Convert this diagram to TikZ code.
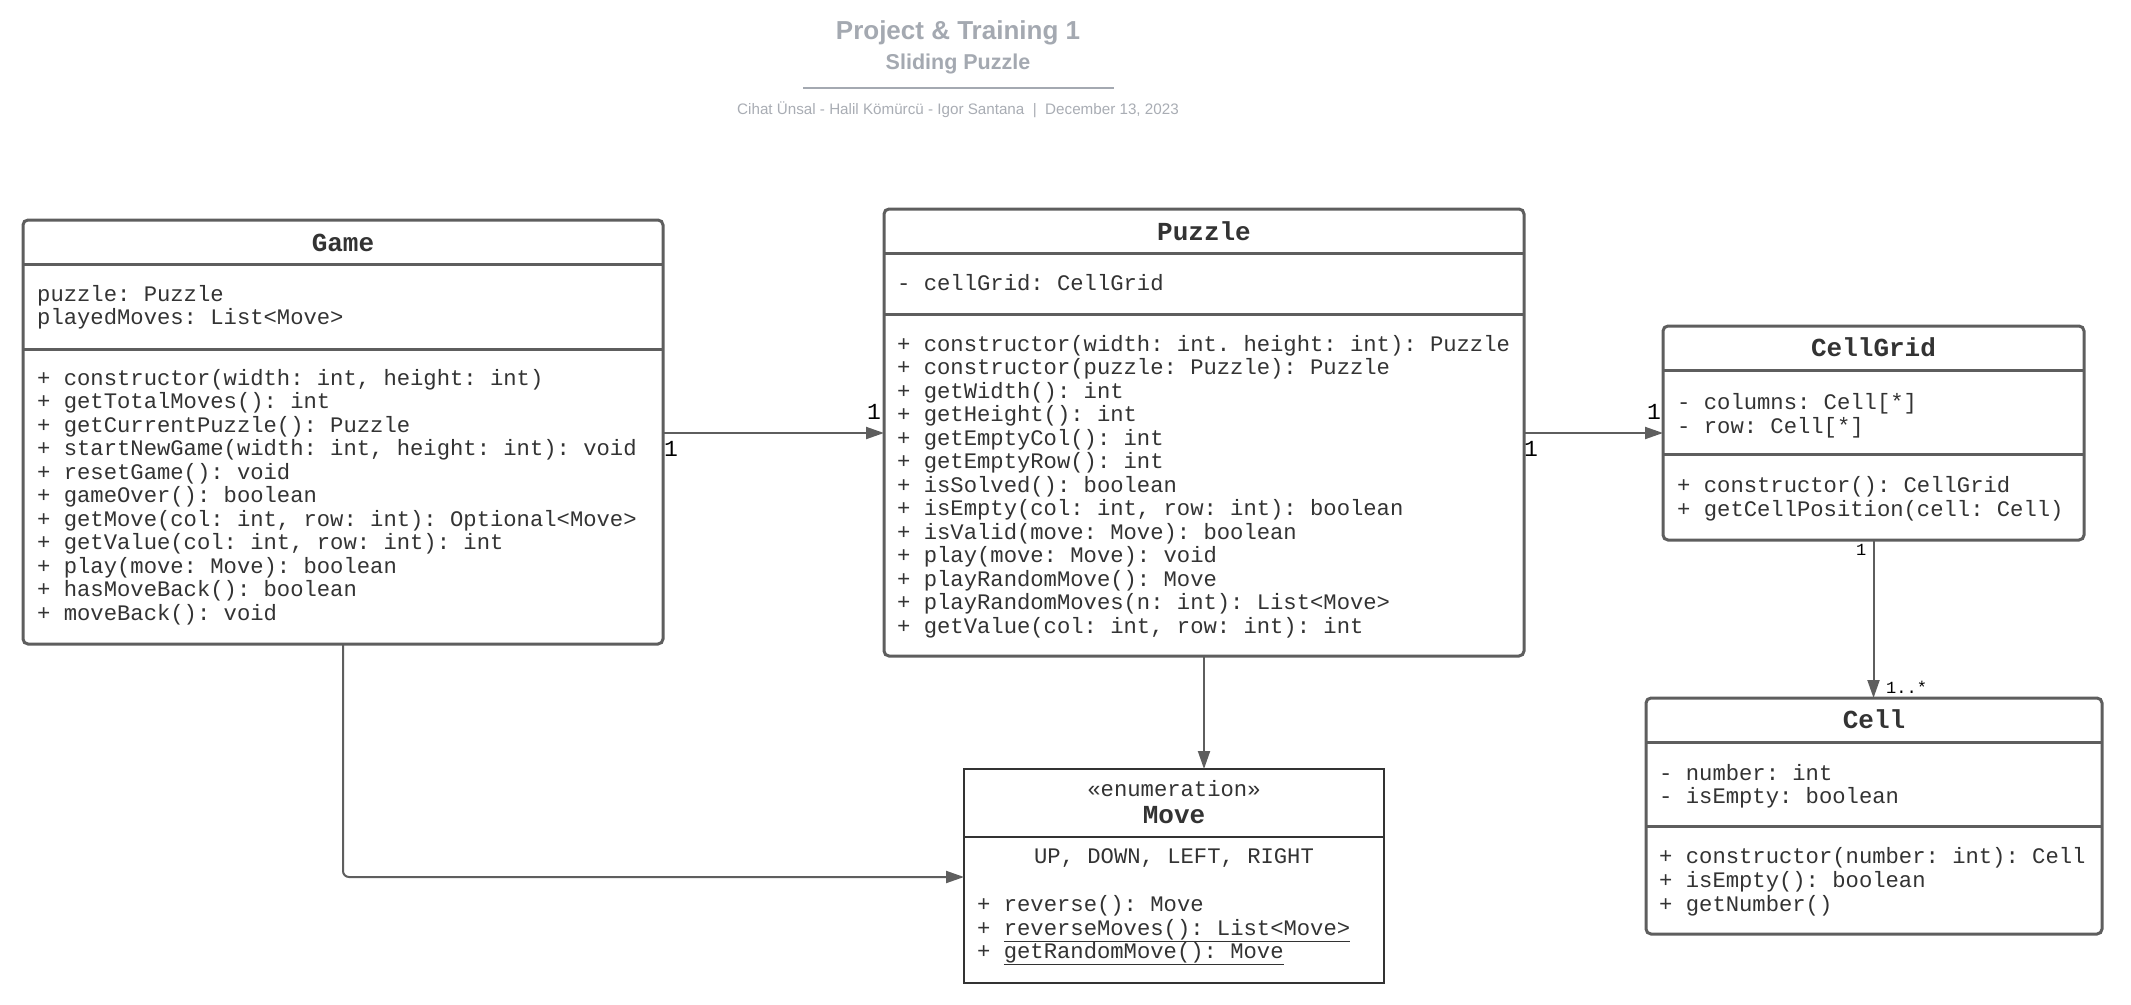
\documentclass[tikz,border=0pt]{standalone}
\usepackage{fontspec}
\setmainfont{Liberation Sans}
\setmonofont{Liberation Mono}
\usetikzlibrary{arrows.meta}
\definecolor{boxc}{HTML}{5E5E5E}
\definecolor{txtc}{HTML}{333333}
\definecolor{ttlc}{HTML}{A4A9B1}
\definecolor{credc}{HTML}{A9ADB4}
\tikzset{
  classbox/.style={draw=boxc, line width=3pt, rounded corners=5pt, fill=white, anchor=north west, inner sep=0pt, outer sep=0pt},
  enumbox/.style={draw=txtc, line width=2.4pt, fill=white, anchor=north west, inner sep=0pt, outer sep=0pt},
  sepline/.style={draw=boxc, line width=3pt},
  mtext/.style={font=\fontsize{22.2}{23.5}\selectfont\ttfamily, text=txtc, inner sep=0pt, anchor=base west},
  ctext/.style={font=\fontsize{22.2}{23.5}\selectfont\ttfamily, text=txtc, inner sep=0pt, anchor=base},
  mtitle/.style={font=\fontsize{26}{28}\selectfont\ttfamily\bfseries, text=txtc, inner sep=0pt, anchor=base},
  conn/.style={draw=boxc, line width=2pt, -{Triangle[length=18pt,width=12pt]}},
  mult/.style={font=\fontsize{23}{25}\selectfont\ttfamily, text=black, inner sep=0pt, anchor=base west},
  smult/.style={font=\fontsize{17}{18}\selectfont\ttfamily, text=black, inner sep=0pt, anchor=base west},
}
\begin{document}
\begin{tikzpicture}[x=1pt,y=-1pt]
\useasboundingbox[fill=white] (0,0) rectangle (2131,1004);

% ---------- title block ----------
\node[font=\fontsize{26}{28}\selectfont\bfseries, text=ttlc, inner sep=0pt, anchor=base] (t1) at (958,39) {Project \& Training 1};
\node[font=\fontsize{21.5}{24}\selectfont\bfseries, text=ttlc, inner sep=0pt, anchor=base] (t2) at (958,69) {Sliding Puzzle};
\coordinate (l1) at (803,88);
\coordinate (l2) at (1114,88);
\draw[ttlc, line width=2pt] (l1) -- (l2);
\node[font=\fontsize{15.2}{17}\selectfont, text=credc, inner sep=0pt, anchor=base] (t3) at (958,114) {Cihat Ünsal - Halil Kömürcü - Igor Santana\ \ |\ \ December 13, 2023};

% ---------- Game ----------
\node[classbox, minimum width=640pt, minimum height=424pt] (game) at (23,220) {};
\draw[sepline] (game.west |- 0,264) -- (game.east |- 0,264);
\draw[sepline] (game.west |- 0,349) -- (game.east |- 0,349);
\node[mtitle] (gt) at (343,251) {Game};
\foreach \t [count=\i from 0] in {{puzzle: Puzzle},{playedMoves: List<Move>}}
  \node[mtext] (ga\i) at (37,{301+23.5*\i}) {\t};
\foreach \t [count=\i from 0] in {
  {+ constructor(width: int, height: int)},
  {+ getTotalMoves(): int},
  {+ getCurrentPuzzle(): Puzzle},
  {+ startNewGame(width: int, height: int): void},
  {+ resetGame(): void},
  {+ gameOver(): boolean},
  {+ getMove(col: int, row: int): Optional<Move>},
  {+ getValue(col: int, row: int): int},
  {+ play(move: Move): boolean},
  {+ hasMoveBack(): boolean},
  {+ moveBack(): void}}
  \node[mtext] (gm\i) at (37,{385+23.5*\i}) {\t};

% ---------- Puzzle ----------
\node[classbox, minimum width=640pt, minimum height=447pt] (puzzle) at (884,209) {};
\draw[sepline] (puzzle.west |- 0,253) -- (puzzle.east |- 0,253);
\draw[sepline] (puzzle.west |- 0,314) -- (puzzle.east |- 0,314);
\node[mtitle] (pt) at (1204,240) {Puzzle};
\node[mtext] (pa0) at (897,290) {- cellGrid: CellGrid};
\foreach \t [count=\i from 0] in {
  {+ constructor(width: int. height: int): Puzzle},
  {+ constructor(puzzle: Puzzle): Puzzle},
  {+ getWidth(): int},
  {+ getHeight(): int},
  {+ getEmptyCol(): int},
  {+ getEmptyRow(): int},
  {+ isSolved(): boolean},
  {+ isEmpty(col: int, row: int): boolean},
  {+ isValid(move: Move): boolean},
  {+ play(move: Move): void},
  {+ playRandomMove(): Move},
  {+ playRandomMoves(n: int): List<Move>},
  {+ getValue(col: int, row: int): int}}
  \node[mtext] (pm\i) at (897,{351+23.5*\i}) {\t};

% ---------- CellGrid ----------
\node[classbox, minimum width=421pt, minimum height=214pt] (grid) at (1663,326) {};
\draw[sepline] (grid.west |- 0,370) -- (grid.east |- 0,370);
\draw[sepline] (grid.west |- 0,454) -- (grid.east |- 0,454);
\node[mtitle] (cgt) at (1873.5,356) {CellGrid};
\node[mtext] (cga0) at (1677,409) {- columns: Cell[*]};
\node[mtext] (cga1) at (1677,433) {- row: Cell[*]};
\node[mtext] (cgm0) at (1677,492) {+ constructor(): CellGrid};
\node[mtext] (cgm1) at (1677,516) {+ getCellPosition(cell: Cell)};

% ---------- Cell ----------
\node[classbox, minimum width=456pt, minimum height=236pt] (cell) at (1646,698) {};
\draw[sepline] (cell.west |- 0,742) -- (cell.east |- 0,742);
\draw[sepline] (cell.west |- 0,826) -- (cell.east |- 0,826);
\node[mtitle] (ct) at (1874,728) {Cell};
\node[mtext] (ca0) at (1659,780) {- number: int};
\node[mtext] (ca1) at (1659,803) {- isEmpty: boolean};
\node[mtext] (cm0) at (1659,863) {+ constructor(number: int): Cell};
\node[mtext] (cm1) at (1659,887) {+ isEmpty(): boolean};
\node[mtext] (cm2) at (1659,911) {+ getNumber()};

% ---------- Move ----------
\node[enumbox, minimum width=420pt, minimum height=214pt] (move) at (964,769) {};
\draw[txtc, line width=2.4pt] (move.west |- 0,837) -- (move.east |- 0,837);
\node[ctext] (ms) at (1174,796) {«enumeration»};
\node[mtitle] (mt) at (1174,823) {Move};
\node[ctext] (mv) at (1174,863) {UP, DOWN, LEFT, RIGHT};
\node[mtext] (mm0) at (977,911) {+ reverse(): Move};
\node[mtext] (mm1) at (977,935) {+ \underline{reverseMoves(): List<Move>}};
\node[mtext] (mm2) at (977,958) {+ \underline{getRandomMove(): Move}};

% ---------- connectors ----------
\draw[conn] (game.east |- 0,433) -- (puzzle.west |- 0,433);
\draw[conn] (puzzle.east |- 0,433) -- (grid.west |- 0,433);
\draw[conn] (grid.south) -- (grid.south |- cell.north);
\draw[conn] (puzzle.south) -- (puzzle.south |- move.north);
\draw[conn, rounded corners=6pt] (game.south) -- (game.south |- 0,877) -- (move.west |- 0,877);

% ---------- multiplicities ----------
\node[mult] (m1) at (664,456) {1};
\node[mult] (m2) at (867,419) {1};
\node[mult] (m3) at (1524,456) {1};
\node[mult] (m4) at (1647,419) {1};
\node[smult] (m5) at (1856,555) {1};
\node[smult] (m6) at (1886,693) {1..*};
\end{tikzpicture}
\end{document}
